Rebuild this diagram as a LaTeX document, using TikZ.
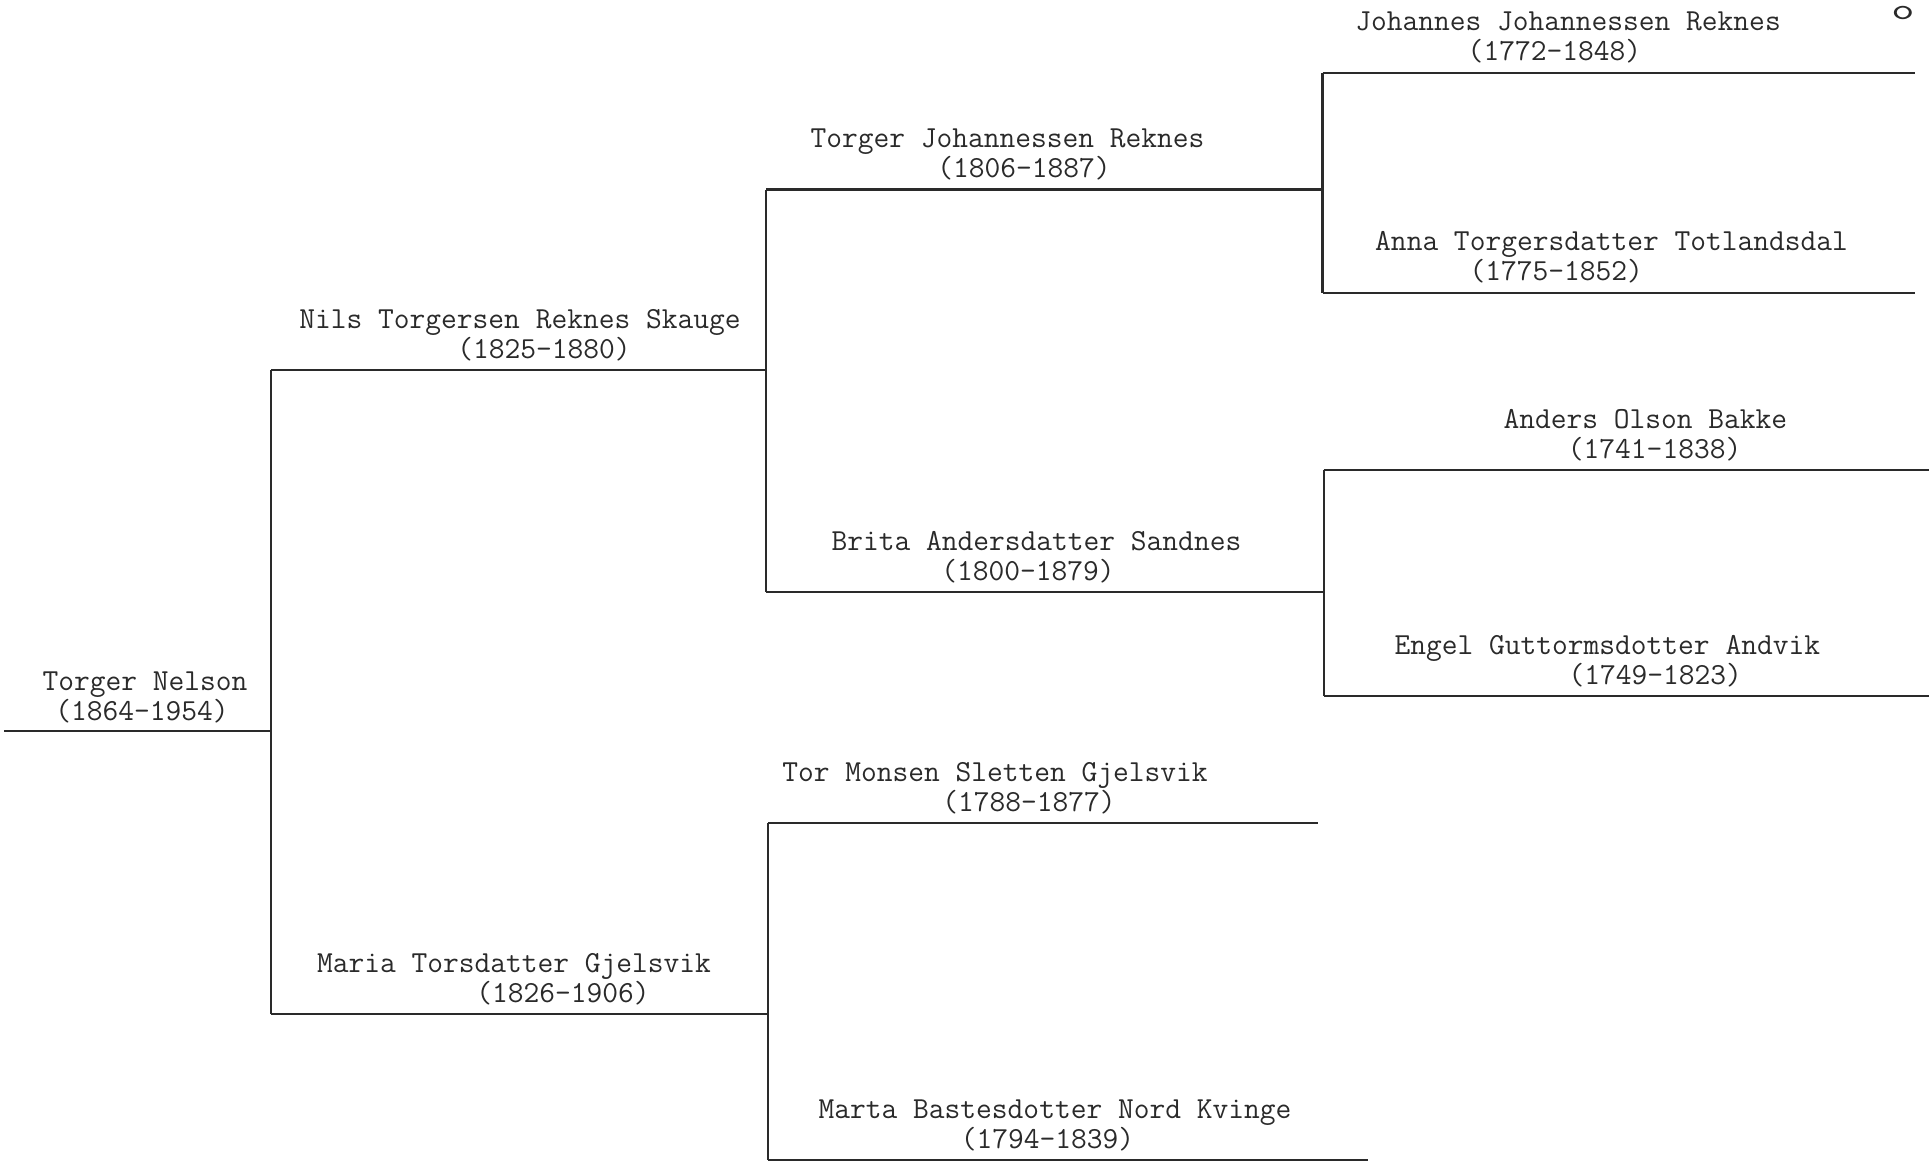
\documentclass[tikz,border=0pt]{standalone}
\usepackage{fontspec}
\definecolor{ink}{HTML}{2A2A2A}
\tikzset{
  tw/.style={font=\fontsize{30.6}{36}\selectfont\ttfamily, text=ink, inner sep=0pt, anchor=base},
  rule/.style={draw=ink, line width=2.2pt, line cap=butt},
}
\begin{document}
\begin{tikzpicture}[x=1pt, y=-1pt]
\useasboundingbox (0,0) rectangle (1929,1163);

% ---- coordinates of the rules ----
\coordinate (l0s) at (4,731);
\coordinate (v0t) at (271,370);
\coordinate (v0m) at (271,731);
\coordinate (v0b) at (271,1014);
\coordinate (n1e) at (766,370);
\coordinate (m1e) at (768,1014);

\coordinate (v1at) at (766,189.5);
\coordinate (v1ab) at (766,592);
\coordinate (tje) at (1322.5,189.5);
\coordinate (bre) at (1323.7,592);

\coordinate (v1bt) at (768,823);
\coordinate (v1bb) at (768,1160);
\coordinate (tme) at (1317.5,823);
\coordinate (mae) at (1368,1160);

\coordinate (v2at) at (1322.5,72.6);
\coordinate (v2ab) at (1322.5,292.8);
\coordinate (joe) at (1915,72.6);
\coordinate (ane) at (1915,292.8);

\coordinate (v2bt) at (1323.7,470);
\coordinate (v2bb) at (1323.7,696.3);
\coordinate (ade) at (1929,470);
\coordinate (ene) at (1929,696.3);

% ---- rules ----
\draw[rule] (l0s) -- (v0m);
\draw[rule] (v0t) -- (v0b);
\draw[rule] (v0t) -- (n1e);
\draw[rule] (v0b) -- (m1e);

\draw[rule] (v1at) -- (v1ab);
\draw[rule] (v1at) -- (tje);
\draw[rule] (v1ab) -- (bre);

\draw[rule] (v1bt) -- (v1bb);
\draw[rule] (v1bt) -- (tme);
\draw[rule] (v1bb) -- (mae);

\draw[rule] (v2at) -- (v2ab);
\draw[rule] (v2at) -- (joe);
\draw[rule] (v2ab) -- (ane);

\draw[rule] (v2bt) -- (v2bb);
\draw[rule] (v2bt) -- (ade);
\draw[rule] (v2bb) -- (ene);

% ---- names ----
\node[tw] (tn)  at (145,690) {Torger Nelson};
\node[tw] (tnd) at (142,720) {(1864-1954)};

\node[tw] (ni)  at (520,328) {Nils Torgersen Reknes Skauge};
\node[tw] (nid) at (544,358) {(1825-1880)};

\node[tw] (ma)  at (514,972) {Maria Torsdatter Gjelsvik};
\node[tw] (mad) at (563,1002) {(1826-1906)};

\node[tw] (tj)  at (1007.5,147.5) {Torger Johannessen Reknes};
\node[tw] (tjd) at (1024,177.5) {(1806-1887)};

\node[tw] (br)  at (1036.4,550) {Brita Andersdatter Sandnes};
\node[tw] (brd) at (1028,580) {(1800-1879)};

\node[tw] (tm)  at (995,781) {Tor Monsen Sletten Gjelsvik};
\node[tw] (tmd) at (1029,811) {(1788-1877)};

\node[tw] (mb)  at (1055,1118) {Marta Bastesdotter Nord Kvinge};
\node[tw] (mbd) at (1047.5,1148) {(1794-1839)};

\node[tw] (jo)  at (1568,30.6) {Johannes Johannessen Reknes};
\node[tw] (jod) at (1554.4,60.6) {(1772-1848)};

\node[tw] (an)  at (1611.6,250.8) {Anna Torgersdatter Totlandsdal};
\node[tw] (and) at (1556.2,280.8) {(1775-1852)};

\node[tw] (ad)  at (1645.4,428) {Anders Olson Bakke};
\node[tw] (add) at (1654.6,458) {(1741-1838)};

\node[tw] (en)  at (1607.3,654.3) {Engel Guttormsdotter Andvik};
\node[tw] (end) at (1655.2,684.3) {(1749-1823)};

% ---- page mark ----
\node[tw, anchor=base, font=\fontsize{30}{32}\selectfont\ttfamily] (pm) at (1903,19) {\smash{\scalebox{1.5}[1]{o}}};
\end{tikzpicture}
\end{document}
